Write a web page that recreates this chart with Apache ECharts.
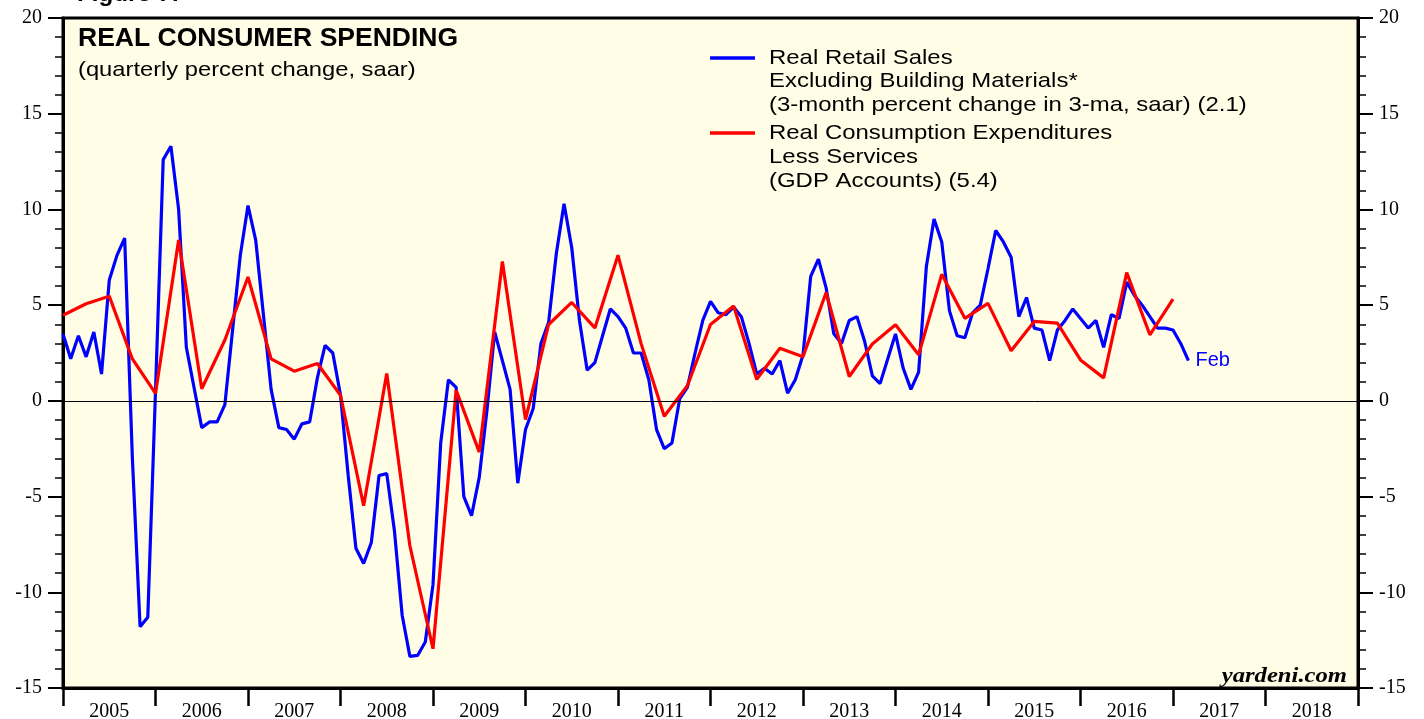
<!DOCTYPE html>
<html>
<head>
<meta charset="utf-8">
<title>Real Consumer Spending</title>
<script src="https://cdn.jsdelivr.net/npm/echarts@6/dist/echarts.min.js"></script>
<style>
  html, body { margin: 0; padding: 0; background: #fff; }
  #chartmain { width: 1424px; height: 719px; }
</style>
</head>
<body>
<div id="chartmain"></div>
<script>
// x轴年份标签（类目居中于两刻度之间）
var years = ['2005', '2006', '2007', '2008', '2009', '2010', '2011',
             '2012', '2013', '2014', '2015', '2016', '2017', '2018'];

// 蓝线：月度数据，月末位置，从 2004年12月 到 2017年2月
var blueStart = 2005;      // Dec 2004 month end
var blueStep = 1 / 12;
var retailSales = [
  3.5, 2.2, 3.4, 2.3, 3.6, 1.4, 6.3, 7.6, 8.5, -3.0, -11.8, -11.3,
  0.5, 12.6, 13.3, 10.0, 2.8, 0.7, -1.4, -1.1, -1.1, -0.2, 3.7, 7.6,
  10.2, 8.4, 4.5, 0.6, -1.4, -1.5, -2.0, -1.2, -1.1, 1.2, 2.9, 2.5,
  0.3, -3.9, -7.7, -8.5, -7.4, -3.9, -3.8, -6.8, -11.2, -13.35, -13.3, -12.6,
  -9.6, -2.2, 1.1, 0.7, -5.0, -6.0, -4.0, -0.5, 3.6, 2.1, 0.6, -4.3,
  -1.5, -0.4, 3.0, 4.1, 7.7, 10.3, 8.0, 4.2, 1.6, 2.0, 3.4, 4.8,
  4.4, 3.8, 2.5, 2.5, 1.1, -1.5, -2.5, -2.2, 0.1, 0.7, 2.5, 4.2,
  5.2, 4.6, 4.5, 4.9, 4.4, 3.0, 1.4, 1.7, 1.4, 2.1, 0.4, 1.1,
  2.4, 6.5, 7.4, 5.9, 3.5, 3.0, 4.2, 4.4, 3.1, 1.3, 0.9, 2.2,
  3.5, 1.7, 0.6, 1.5, 7.0, 9.5, 8.3, 4.7, 3.4, 3.3, 4.6, 5.0,
  6.9, 8.9, 8.3, 7.5, 4.4, 5.4, 3.8, 3.7, 2.1, 3.7, 4.2, 4.8,
  4.3, 3.8, 4.2, 2.8, 4.5, 4.3, 6.2, 5.5, 5.0, 4.4, 3.8, 3.8,
  3.7, 3.0, 2.1
];

// 红线：季度数据，季末位置，从 2004Q4 到 2016Q4
var redStart = 2005;
var redStep = 0.25;
var consumption = [
  4.47, 5.07, 5.47, 2.19, 0.39, 8.40, 0.63, 3.18, 6.47, 2.19, 1.55, 1.95,
  0.29, -5.48, 1.43, -7.57, -12.95, 0.56, -2.68, 7.28, -0.98, 3.99, 5.14, 3.81,
  7.61, 2.99, -0.80, 0.79, 3.99, 4.96, 1.12, 2.75, 2.31, 5.66, 1.27, 2.97,
  3.98, 2.41, 6.61, 4.31, 5.09, 2.62, 4.15, 4.06, 2.14, 1.20, 6.70, 3.45,
  5.31
];

var blueName = 'Real Retail Sales\nExcluding Building Materials*\n(3-month percent change in 3-ma, saar) (2.1)';
var redName = 'Real Consumption Expenditures\nLess Services\n(GDP Accounts) (5.4)';

$ready();

function $ready() {
    var chart = echarts.init(document.getElementById('chartmain'));
    initChart(chart);
}

function toPairs(start, step, values) {
    var out = [];
    for (var i = 0; i < values.length; i++) {
        out.push([start + i * step, values[i]]);
    }
    return out;
}

function initChart(chart) {
    var sans = '"Liberation Sans", Arial, Helvetica, sans-serif';
    var serif = '"Liberation Serif", "Times New Roman", serif';

    var yAxisBase = function (pos) {
        return {
            type: 'value',
            position: pos,
            min: -15,
            max: 20,
            interval: 5,
            axisLine: { show: true, onZero: false, lineStyle: { color: '#000', width: 3 } },
            axisTick: { show: true, length: 15, lineStyle: { color: '#000', width: 2 } },
            minorTick: { show: true, splitNumber: 5, length: 8, lineStyle: { color: '#000', width: 1.5 } },
            splitLine: { show: false },
            axisLabel: { color: '#000', fontFamily: serif, fontSize: 20, margin: 21 }
        };
    };

    chart.setOption({
        animation: false,
        grid: {
            left: 63,
            right: 66,
            top: 18,
            bottom: 31,
            show: true,
            backgroundColor: '#fffde6',
            borderColor: '#000',
            borderWidth: 3,
            containLabel: false,
            outerBoundsMode: 'none'
        },
        graphic: [
            { type: 'text', x: 77, y: -16, scaleX: 1.1, style: { text: 'Figure 7:', font: 'bold 22px ' + sans, fill: '#000' } },
            { type: 'text', x: 78, y: 26, scaleX: 1.02, style: { text: 'REAL CONSUMER SPENDING', font: 'bold 26px ' + sans, fill: '#000' } },
            { type: 'text', x: 78, y: 60, scaleX: 1.13, style: { text: '(quarterly percent change, saar)', font: '21px ' + sans, fill: '#000' } },
            { type: 'line', shape: { x1: 710, y1: 58, x2: 755, y2: 58 }, style: { stroke: '#0000ff', lineWidth: 3.5 } },
            { type: 'text', x: 769, y: 46, scaleX: 1.14, style: { text: blueName, font: '21px ' + sans, lineHeight: 23.5, fill: '#000' } },
            { type: 'line', shape: { x1: 710, y1: 133, x2: 755, y2: 133 }, style: { stroke: '#ff0000', lineWidth: 3.5 } },
            { type: 'text', x: 769, y: 121, scaleX: 1.14, style: { text: redName, font: '21px ' + sans, lineHeight: 24, fill: '#000' } },
            { type: 'text', x: 1347, y: 665, scaleX: 1.12, style: { text: 'yardeni.com', font: 'italic bold 22px ' + serif, fill: '#000', align: 'right' } }
        ],
        xAxis: [
            {
                type: 'category',
                data: years,
                position: 'bottom',
                boundaryGap: true,
                axisLine: { show: true, onZero: false, lineStyle: { color: '#000', width: 3 } },
                axisTick: { show: true, length: 18, interval: 0, lineStyle: { color: '#000', width: 2.5 } },
                axisLabel: { color: '#000', fontFamily: serif, fontSize: 20, margin: 14, interval: 0 },
                splitLine: { show: false }
            },
            {
                type: 'value',
                min: 2005,
                max: 2019,
                show: false,
                splitLine: { show: false }
            }
        ],
        yAxis: [yAxisBase('left'), yAxisBase('right')],
        series: [
            {
                name: 'zero',
                type: 'line',
                xAxisIndex: 1,
                yAxisIndex: 0,
                data: [],
                z: 1,
                markLine: {
                    silent: true,
                    symbol: 'none',
                    label: { show: false },
                    lineStyle: { color: '#000', width: 1, type: 'solid' },
                    data: [{ yAxis: 0 }]
                }
            },
            {
                name: blueName,
                type: 'line',
                xAxisIndex: 1,
                yAxisIndex: 0,
                showSymbol: false,
                data: toPairs(blueStart, blueStep, retailSales),
                lineStyle: { color: '#0000ff', width: 3.2 },
                itemStyle: { color: '#0000ff' },
                endLabel: {
                    show: true,
                    formatter: 'Feb',
                    color: '#0000ff',
                    fontFamily: sans,
                    fontSize: 20,
                    distance: 7
                },
                z: 3
            },
            {
                name: redName,
                type: 'line',
                xAxisIndex: 1,
                yAxisIndex: 0,
                showSymbol: false,
                data: toPairs(redStart, redStep, consumption),
                lineStyle: { color: '#ff0000', width: 3.2 },
                itemStyle: { color: '#ff0000' },
                z: 4
            }
        ]
    });
}
</script>
</body>
</html>
